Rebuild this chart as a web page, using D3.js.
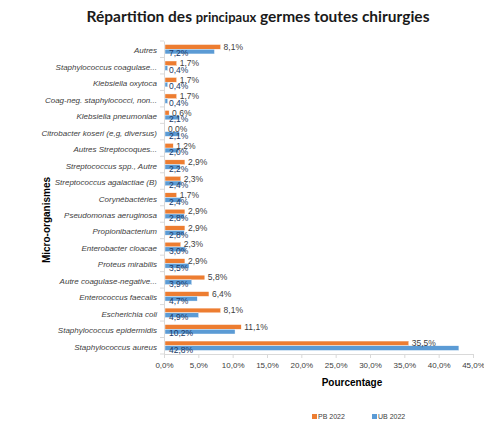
<!DOCTYPE html>
<html>
<head>
<meta charset="utf-8">
<script src="https://cdn.jsdelivr.net/npm/d3@7"></script>
<style>
  body { margin: 0; background: #fff; }
  svg text { font-family: "Liberation Sans", Arial, sans-serif; }
</style>
</head>
<body>
<div id="chart"></div>
<script>
const categories = [
    'Autres',
    'Staphylococcus coagulase...',
    'Klebsiella oxytoca',
    'Coag-neg. staphylococci, non...',
    'Klebsiella pneumoniae',
    'Citrobacter koseri (e,g, diversus)',
    'Autres Streptocoques...',
    'Streptococcus spp., Autre',
    'Streptococcus agalactiae (B)',
    'Corynébactéries',
    'Pseudomonas aeruginosa',
    'Propionibacterium',
    'Enterobacter cloacae',
    'Proteus mirabilis',
    'Autre coagulase-negative...',
    'Enterococcus faecalis',
    'Escherichia coli',
    'Staphylococcus epidermidis',
    'Staphylococcus aureus'
]
const pb2022 = [8.1, 1.7, 1.7, 1.7, 0.6, 0.0, 1.2, 2.9, 2.3, 1.7, 2.9, 2.9, 2.3, 2.9, 5.8, 6.4, 8.1, 11.1, 35.5]
const ub2022 = [7.2, 0.4, 0.4, 0.4, 2.1, 2.1, 2.0, 2.2, 2.4, 2.4, 2.8, 2.8, 3.0, 3.5, 3.9, 4.7, 4.9, 10.2, 42.8]
const xTicks = [0, 5, 10, 15, 20, 25, 30, 35, 40, 45]
const seriesNames = ['PB 2022', 'UB 2022']
const colors = ['#ED7D31', '#5B9BD5']

const width = 484
const height = 424
const margin = { top: 41, right: 11, bottom: 70, left: 164 }

const svg = d3.select('#chart').append('svg')
    .attr('width', width)
    .attr('height', height)

const fmt = (v) => v.toFixed(1).replace('.', ',') + '%'

const x = d3.scaleLinear().domain([0, 45]).range([margin.left, width - margin.right])
const y = d3.scaleBand().domain(categories).range([margin.top, height - margin.bottom]).paddingInner(0)
const sub = d3.scaleBand().domain([0, 1]).range([0, y.bandwidth()]).paddingOuter(0.75)

// title
svg.append('text')
    .attr('x', 258)
    .attr('y', 22)
    .attr('text-anchor', 'middle')
    .style('font-family', 'Lato, "Open Sans", sans-serif')
    .style('font-weight', 'bold')
    .style('font-size', '15.5px')
    .attr('fill', '#1a1a1a')
    .call(t => {
        t.append('tspan').text('Répartition des ')
        t.append('tspan').style('font-size', '13px').text('principaux')
        t.append('tspan').text(' germes toutes chirurgies')
    })

// x axis
const xAxis = svg.append('g')
    .attr('transform', `translate(0,${height - margin.bottom})`)
    .call(d3.axisBottom(x).tickValues(xTicks).tickFormat(fmt).tickSize(4).tickSizeOuter(0))
xAxis.select('.domain').attr('stroke', '#d9d9d9')
xAxis.selectAll('.tick line').attr('stroke', '#d9d9d9')
xAxis.selectAll('.tick text').attr('fill', '#404040').style('font-size', '8px').attr('dy', '0.9em')

// y axis
const yAxis = svg.append('g')
    .attr('transform', `translate(${margin.left},0)`)
    .call(d3.axisLeft(y).tickSize(0).tickPadding(7))
yAxis.select('.domain').attr('stroke', '#d9d9d9')
yAxis.selectAll('.tick text')
    .attr('fill', '#404040')
    .style('font-size', '8px')
    .style('font-style', 'italic')
    .attr('dy', '0.5em')
svg.append('g').selectAll('line')
    .data(d3.range(categories.length + 1))
    .join('line')
    .attr('x1', margin.left - 4)
    .attr('x2', margin.left)
    .attr('y1', (i) => margin.top + i * y.step())
    .attr('y2', (i) => margin.top + i * y.step())
    .attr('stroke', '#d9d9d9')

// bars
const series = [pb2022, ub2022]
series.forEach((vals, s) => {
    svg.append('g').selectAll('rect')
        .data(vals)
        .join('rect')
        .attr('x', x(0) + 1)
        .attr('y', (d, i) => y(categories[i]) + sub(s))
        .attr('width', (d) => Math.max(0, x(d) - x(0)))
        .attr('height', sub.bandwidth())
        .attr('fill', colors[s])
        .attr('stroke', '#fff')
        .attr('stroke-width', 0.4)
})

// labels PB: right of bar
svg.append('g').selectAll('text')
    .data(pb2022)
    .join('text')
    .attr('x', (d) => x(d) + 4)
    .attr('y', (d, i) => y(categories[i]) + sub(0) + sub.bandwidth() + 0.5)
    .attr('fill', '#404040')
    .style('font-size', '8.5px')
    .text(fmt)

// labels UB: near the base, over the bar
svg.append('g').selectAll('text')
    .data(ub2022)
    .join('text')
    .attr('x', x(0) + 5)
    .attr('y', (d, i) => y(categories[i]) + sub(1) + sub.bandwidth() + 2.5)
    .attr('fill', '#203864')
    .style('font-size', '8.5px')
    .text(fmt)

// axis titles
svg.append('text')
    .attr('x', 352)
    .attr('y', 386)
    .attr('text-anchor', 'middle')
    .style('font-weight', 'bold')
    .style('font-size', '10px')
    .attr('fill', '#000')
    .text('Pourcentage')

svg.append('text')
    .attr('transform', 'translate(50,220) rotate(-90)')
    .attr('text-anchor', 'middle')
    .style('font-weight', 'bold')
    .style('font-size', '10px')
    .attr('fill', '#000')
    .text('Micro-organismes')

// legend
const legend = svg.append('g')
    .selectAll('g')
    .data(seriesNames)
    .join('g')
    .attr('transform', (d, i) => `translate(${312 + i * 60},419)`)
legend.append('rect')
    .attr('x', 0).attr('y', -5)
    .attr('width', 5).attr('height', 5)
    .attr('fill', (d, i) => colors[i])
legend.append('text')
    .attr('x', 6)
    .attr('y', 0)
    .attr('fill', '#404040')
    .style('font-size', '7px')
    .text((d) => d)
</script>
</body>
</html>
